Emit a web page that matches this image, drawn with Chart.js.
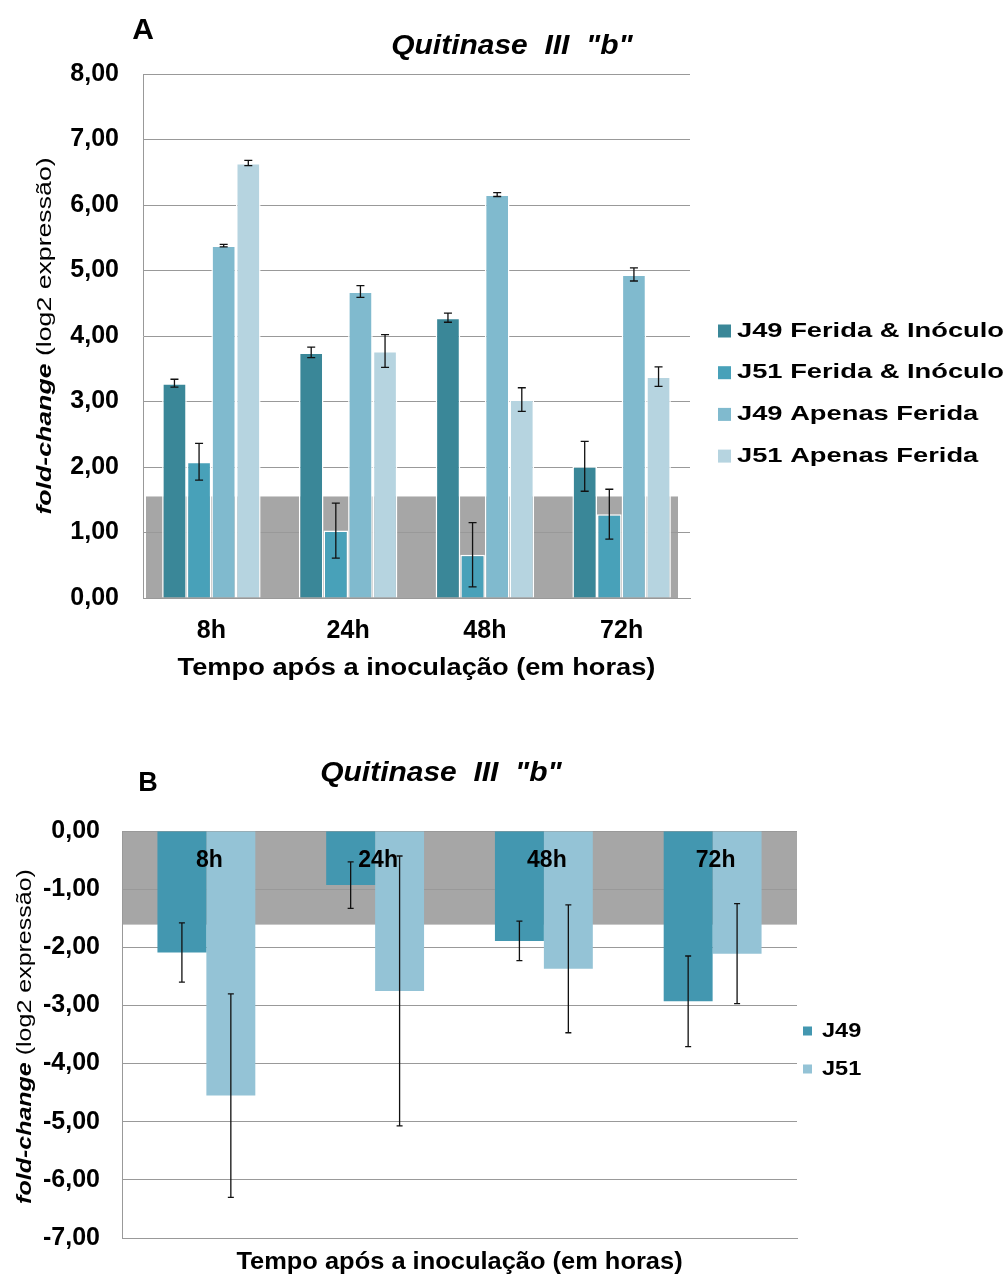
<!DOCTYPE html>
<html>
<head>
<meta charset="utf-8">
<script src="https://cdn.jsdelivr.net/npm/chart.js@4.4.0/dist/chart.umd.min.js"></script>
<style>
  body {margin: 0; background: #fff;}
  #caixaA {position: absolute; left: 0; top: 0; width: 1007px; height: 700px;}
  #caixaB {position: absolute; left: 0; top: 700px; width: 1007px; height: 575px;}
</style>
</head>
<body>
<div id="caixaA"><canvas id="graficoA"></canvas></div>
<div id="caixaB"><canvas id="graficoB"></canvas></div>
<script>
// dados
const tempos = ['8h', '24h', '48h', '72h'];

const seriesA = ['J49 Ferida & Inóculo', 'J51 Ferida & Inóculo', 'J49 Apenas Ferida', 'J51 Apenas Ferida'];
const j49FeridaInoculo = [3.28, 3.75, 4.28, 2.01];
const j51FeridaInoculo = [2.08, 1.03, 0.66, 1.28];
const j49ApenasFerida = [5.38, 4.68, 6.16, 4.94];
const j51ApenasFerida = [6.64, 3.77, 3.03, 3.38];
const erroJ49FI = [0.06, 0.08, 0.07, 0.38];
const erroJ51FI = [0.28, 0.42, 0.49, 0.38];
const erroJ49AF = [0.02, 0.09, 0.03, 0.10];
const erroJ51AF = [0.04, 0.25, 0.18, 0.15];
const limiarA = 1.55;

const seriesB = ['J49', 'J51'];
const j49 = [-2.09, -0.93, -1.89, -2.93];
const j51 = [-4.55, -2.75, -2.37, -2.11];
const erroJ49 = [0.51, 0.40, 0.34, 0.78];
const erroJ51 = [1.75, 2.32, 1.10, 0.86];
const limiarB = -1.61;

const fonte = "'Liberation Sans', Arial, sans-serif";
Chart.defaults.font.family = fonte;
Chart.defaults.color = '#000';

const virgula = v => Number(v).toFixed(2).replace('.', ',');

// texto com esticamento horizontal (a figura original tem letras mais largas)
function texto(ctx, str, x, y, font, sx, align) {
  ctx.save();
  ctx.font = font;
  ctx.translate(x, y);
  ctx.scale(sx, 1);
  ctx.textAlign = align;
  ctx.textBaseline = 'middle';
  ctx.fillText(str, 0, 0);
  ctx.restore();
}

// textos, faixa cinza, barras de erro e legenda
function pluginFigura(cfg) {
  return {
    id: 'figura',
    beforeDraw(chart) {
      const {ctx, scales: {y}} = chart;
      const a = chart.chartArea;
      ctx.save();
      ctx.fillStyle = '#a6a6a6';
      const y0 = y.getPixelForValue(0), y1 = y.getPixelForValue(cfg.limiar);
      ctx.fillRect(a.left + cfg.faixaEsq, Math.min(y0, y1), a.right - a.left - cfg.faixaEsq - cfg.faixaDir, Math.abs(y1 - y0));
      ctx.restore();
    },
    afterDatasetsDraw(chart) {
      const {ctx, scales: {y}} = chart;
      ctx.save();
      ctx.strokeStyle = '#111';
      ctx.lineWidth = 1.3;
      chart.data.datasets.forEach((ds, d) => {
        const meta = chart.getDatasetMeta(d);
        meta.data.forEach((bar, i) => {
          const v = ds.data[i], e = ds.erros[i];
          const ya = y.getPixelForValue(v + e), yb = y.getPixelForValue(v - e);
          ctx.beginPath();
          ctx.moveTo(bar.x, ya); ctx.lineTo(bar.x, yb);
          ctx.moveTo(bar.x - cfg.capa, ya); ctx.lineTo(bar.x + cfg.capa, ya);
          ctx.moveTo(bar.x - cfg.capa, yb); ctx.lineTo(bar.x + cfg.capa, yb);
          ctx.stroke();
        });
      });
      ctx.restore();
    },
    afterDraw(chart) {
      const {ctx, scales: {x}} = chart;
      const a = chart.chartArea;
      ctx.save();
      ctx.fillStyle = '#000';
      texto(ctx, cfg.letra, cfg.letraX, cfg.letraY, 'bold ' + cfg.letraTam + 'px ' + fonte, 1, 'center');
      texto(ctx, 'Quitinase  III  "b"', cfg.tituloX, cfg.tituloY, 'italic bold 28px ' + fonte, 1.07, 'center');
      texto(ctx, 'Tempo após a inoculação (em horas)', (a.left + a.right) / 2, cfg.eixoXY, 'bold 24px ' + fonte, cfg.eixoXSx, 'center');
      // rotulos de categoria dentro da area (painel B)
      if (cfg.rotulosDentro) {
        tempos.forEach((t, i) => texto(ctx, t, x.getPixelForValue(i) + 3, cfg.rotulosDentro, 'bold 23px ' + fonte, 1, 'center'));
      }
      // titulo eixo y com parte em italico
      const f1 = 'italic bold ' + cfg.eixoYTam + 'px ' + fonte, f2 = cfg.eixoYTam + 'px ' + fonte;
      const p1 = 'fold-change', p2 = ' (log2 expressão)';
      ctx.font = f1;
      const w1 = ctx.measureText(p1).width;
      ctx.font = f2;
      const w2 = ctx.measureText(p2).width;
      ctx.translate(cfg.eixoYX, (a.top + a.bottom) / 2 + cfg.eixoYDesl);
      ctx.rotate(-Math.PI / 2);
      ctx.scale(cfg.eixoYSx, 1);
      ctx.textAlign = 'left';
      ctx.textBaseline = 'middle';
      ctx.font = f1;
      ctx.fillText(p1, -(w1 + w2) / 2, 0);
      ctx.font = f2;
      ctx.fillText(p2, -(w1 + w2) / 2 + w1, 0);
      ctx.restore();
      // legenda
      ctx.save();
      chart.data.datasets.forEach((ds, d) => {
        const yy = cfg.legY + d * cfg.legPasso;
        ctx.fillStyle = ds.backgroundColor;
        ctx.fillRect(cfg.legX, yy - cfg.legQ / 2, cfg.legQ, cfg.legQ);
        ctx.fillStyle = '#000';
        texto(ctx, ds.label, cfg.legTextoX, yy, 'bold 21px ' + fonte, cfg.legSx, 'left');
      });
      ctx.restore();
    }
  };
}

new Chart(document.getElementById('graficoA'), {
  type: 'bar',
  data: {
    labels: tempos,
    datasets: [
      {label: seriesA[0], data: j49FeridaInoculo, erros: erroJ49FI, backgroundColor: '#3a8798'},
      {label: seriesA[1], data: j51FeridaInoculo, erros: erroJ51FI, backgroundColor: '#48a1b9'},
      {label: seriesA[2], data: j49ApenasFerida, erros: erroJ49AF, backgroundColor: '#80bace'},
      {label: seriesA[3], data: j51ApenasFerida, erros: erroJ51AF, backgroundColor: '#b6d4e0'}
    ].map(ds => Object.assign(ds, {borderColor: '#fff', borderWidth: 1.5, categoryPercentage: 0.72, barPercentage: 1}))
  },
  options: {
    responsive: true, maintainAspectRatio: false, animation: false,
    layout: {padding: {top: 74, right: 317, left: 0, bottom: 0}},
    plugins: {legend: {display: false}, tooltip: {enabled: false}},
    scales: {
      y: {
        min: 0, max: 8,
        ticks: {stepSize: 1, callback: virgula, font: {size: 25, weight: 'bold'}, color: '#000', padding: 24},
        grid: {color: '#999', drawTicks: false},
        border: {color: '#999'},
        afterFit: s => { s.width = 143; }
      },
      x: {
        ticks: {font: {size: 25, weight: 'bold'}, color: '#000', padding: 18},
        grid: {display: false, drawTicks: false},
        border: {color: '#999'},
        afterFit: s => { s.height = 102; }
      }
    }
  },
  plugins: [pluginFigura({
    limiar: limiarA, faixaEsq: 3, faixaDir: 12, capa: 4,
    letra: 'A', letraX: 143, letraY: 31, letraTam: 30,
    tituloX: 512, tituloY: 46, eixoXY: 668, eixoXSx: 1.135,
    eixoYX: 45, eixoYDesl: 0, eixoYTam: 21, eixoYSx: 1.27,
    legX: 718, legQ: 13, legTextoX: 737, legY: 331, legPasso: 41.7, legSx: 1.3
  })]
});

new Chart(document.getElementById('graficoB'), {
  type: 'bar',
  data: {
    labels: tempos,
    datasets: [
      {label: seriesB[0], data: j49, erros: erroJ49, backgroundColor: '#4397b0'},
      {label: seriesB[1], data: j51, erros: erroJ51, backgroundColor: '#94c3d6'}
    ].map(ds => Object.assign(ds, {borderWidth: 0, categoryPercentage: 0.58, barPercentage: 1}))
  },
  options: {
    responsive: true, maintainAspectRatio: false, animation: false,
    layout: {padding: {top: 131, right: 210, left: 0, bottom: 0}},
    plugins: {legend: {display: false}, tooltip: {enabled: false}},
    scales: {
      y: {
        min: -7, max: 0,
        ticks: {stepSize: 1, callback: virgula, font: {size: 25, weight: 'bold'}, color: '#000', padding: 22},
        grid: {color: '#999', drawTicks: false},
        border: {color: '#999'},
        afterFit: s => { s.width = 122; }
      },
      x: {
        ticks: {display: false},
        grid: {display: false, drawTicks: false},
        border: {color: '#999'},
        afterFit: s => { s.height = 31; }
      }
    }
  },
  plugins: [pluginFigura({
    limiar: limiarB, faixaEsq: 0, faixaDir: 0, capa: 3,
    letra: 'B', letraX: 148, letraY: 84, letraTam: 27,
    tituloX: 441, tituloY: 73, eixoXY: 562, eixoXSx: 1.06,
    eixoYX: 25, eixoYDesl: 2, eixoYTam: 20, eixoYSx: 1.25, rotulosDentro: 161,
    legX: 803, legQ: 9, legTextoX: 822, legY: 331, legPasso: 38, legSx: 1.12
  })]
});
</script>
</body>
</html>
